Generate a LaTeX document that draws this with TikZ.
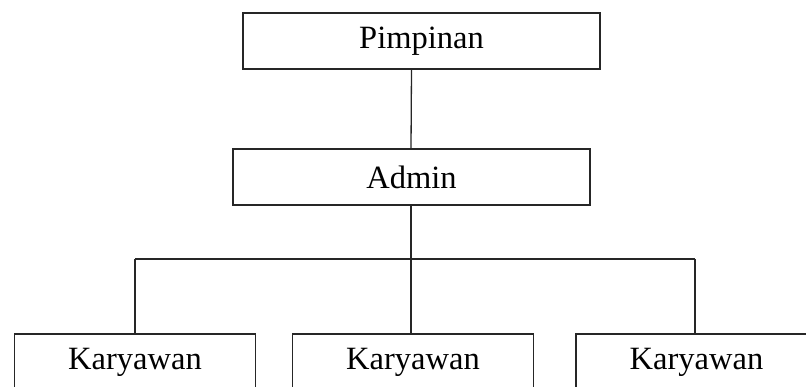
\documentclass[tikz,border=0pt]{standalone}
\usepackage{fontspec}
\setmainfont{Liberation Serif}
\begin{document}
\begin{tikzpicture}[x=1pt,y=-1pt,
  orgbox/.style={draw=black!85, line width=1.5pt, minimum width=357pt, minimum height=56pt, inner sep=0pt, font=\fontsize{32.5}{38}\selectfont},
  empbox/.style={orgbox, minimum width=241pt},
  link/.style={draw=black!85, line width=1.3pt}]
\useasboundingbox (0,0) rectangle (806,387);
\begin{scope}
\clip (0,0) rectangle (806,387);
\node[orgbox] (pim) at (421.5,41) {Pimpinan};
\node[orgbox] (adm) at (411.5,177) {Admin};
\node[empbox] (k1) at (135,362) {Karyawan};
\node[empbox] (k2) at (413,362) {Karyawan};
\node[empbox] (k3) at (696.5,362) {Karyawan};
\coordinate (hub) at (411,259);
\coordinate (l) at (135,259);
\coordinate (r) at (695,259);
\draw[link] (adm.north -| hub) -- (adm.north |- pim.south);
\draw[link] (adm.south -| hub) -- (hub);
\draw[link] (l) -- (r);
\draw[link] (l) -- (l |- k1.north);
\draw[link] (hub) -- (hub |- k2.north);
\draw[link] (r) -- (r |- k3.north);
\end{scope}
\end{tikzpicture}
\end{document}
